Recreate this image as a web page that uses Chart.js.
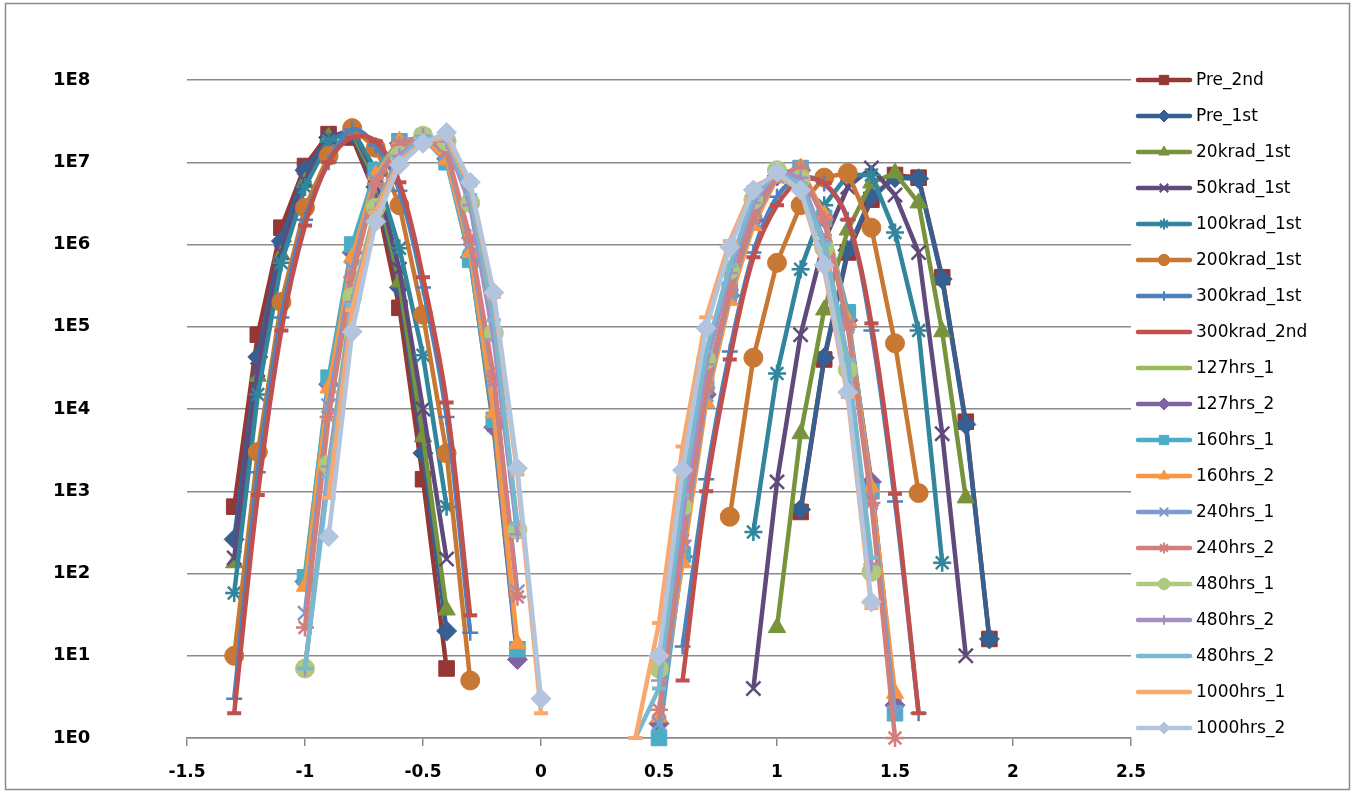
<!DOCTYPE html>
<html lang="en">
<head>
    <meta charset="UTF-8">
    <title>Distribution</title>
    <script src="https://cdn.jsdelivr.net/npm/chart.js@4.4.0/dist/chart.umd.min.js"></script>
    <style>
        html, body { margin: 0; padding: 0; background: #fff; }
        canvas { display: block; }
    </style>
</head>
<body>
<canvas id="chart" width="1355" height="794"></canvas>
<script>
    const N = null;

    // x positions (0.1 steps), gap between the two lobes is left empty
    const xValues = [-1.3, -1.2, -1.1, -1.0, -0.9, -0.8, -0.7, -0.6, -0.5, -0.4, -0.3, -0.2, -0.1, 0.0,
                     0.1, 0.2, 0.3,
                     0.4, 0.5, 0.6, 0.7, 0.8, 0.9, 1.0, 1.1, 1.2, 1.3, 1.4, 1.5, 1.6, 1.7, 1.8, 1.9];

    const xTickValues = [-1.5, -1, -0.5, 0, 0.5, 1, 1.5, 2, 2.5];
    const xTickLabels = ["-1.5", "-1", "-0.5", "0", "0.5", "1", "1.5", "2", "2.5"];
    const yTickValues = [1, 1e1, 1e2, 1e3, 1e4, 1e5, 1e6, 1e7, 1e8];
    const yTickLabels = ["1E0", "1E1", "1E2", "1E3", "1E4", "1E5", "1E6", "1E7", "1E8"];

    const seriesNames = ["Pre_2nd", "Pre_1st", "20krad_1st", "50krad_1st", "100krad_1st", "200krad_1st",
                         "300krad_1st", "300krad_2nd", "127hrs_1", "127hrs_2", "160hrs_1", "160hrs_2",
                         "240hrs_1", "240hrs_2", "480hrs_1", "480hrs_2", "480hrs_2", "1000hrs_1", "1000hrs_2"];

    const pre2nd   = [650, 8e4, 1.6e6, 9e6, 2.2e7, 2e7, 4e6, 1.7e5, 1.4e3, 7, N, N, N, N,  N, N, N,
                      N, N, N, N, N, N, N, 560, 4e4, 8e5, 3.5e6, 7e6, 6.5e6, 4e5, 7e3, 16];
    const pre1st   = [260, 4.3e4, 1.1e6, 8e6, 2e7, 2.2e7, 5e6, 3e5, 2.9e3, 20, N, N, N, N,  N, N, N,
                      N, N, N, N, N, N, N, 600, 4.2e4, 8.5e5, 3.8e6, 6.5e6, 6.3e6, 3.8e5, 6.5e3, 16];
    const krad20   = [135, 2.5e4, 7.5e5, 5.7e6, 2e7, 2.3e7, 6e6, 3.5e5, 4.6e3, 36, N, N, N, N,  N, N, N,
                      N, N, N, N, N, N, 22, 5e3, 1.6e5, 1.5e6, 5.6e6, 7.4e6, 3.2e6, 8.7e4, 830, N];
    const krad50   = [155, 3e4, 8e5, 6e6, 2e7, 2.5e7, 7e6, 5e5, 1e4, 150, N, N, N, N,  N, N, N,
                      N, N, N, N, N, 4, 1.3e3, 8e4, 1.1e6, 5e6, 8.5e6, 4e6, 8e5, 5e3, 10, N];
    const krad100  = [58, 1.5e4, 6e5, 5e6, 1.8e7, 2.5e7, 8e6, 9e5, 4.5e4, 650, N, N, N, N,  N, N, N,
                      N, N, N, N, N, 320, 2.7e4, 5e5, 3e6, 7e6, 7e6, 1.4e6, 9e4, 135, N, N];
    const krad200  = [10, 3e3, 2e5, 2.8e6, 1.2e7, 2.6e7, 1.5e7, 3e6, 1.4e5, 2.9e3, 5, N, N, N,  N, N, N,
                      N, N, N, N, 490, 4.2e4, 6e5, 3e6, 6.5e6, 7.4e6, 1.6e6, 6.3e4, 950, N, N, N];
    const krad300a = [3, 1.7e3, 1.3e5, 2e6, 1e7, 2.5e7, 1.6e7, 4.5e6, 3e5, 8e3, 19, N, N, N,  N, N, N,
                      N, N, 13, 1.4e3, 5e4, 8e5, 3.8e6, 6.5e6, 5.5e6, 2e6, 9e4, 750, 2, N, N, N];
    const krad300b = [2, 900, 9e4, 1.7e6, 1e7, 2e7, 1.8e7, 5.7e6, 4e5, 1.2e4, 31, N, N, N,  N, N, N,
                      N, N, 5, 1e3, 4e4, 7e5, 3e6, 6e6, 5.6e6, 2e6, 1.1e5, 930, 2, N, N, N];
    const hrs127a  = [N, N, N, 100, 2e4, 8e5, 7.5e6, 1.8e7, 2e7, 1.1e7, 7e5, 5.5e3, 10, N,  N, N, N,
                      N, 1.5, 150, 1.4e4, 2.3e5, 1.9e6, 6.6e6, 8.3e6, 2.2e6, 1.3e5, 1.2e3, 3, N, N, N, N];
    const hrs127b  = [N, N, N, 80, 2e4, 8e5, 7e6, 1.7e7, 2e7, 1.1e7, 7e5, 6e3, 9, N,  N, N, N,
                      N, 1.5, 160, 1.5e4, 2.4e5, 2e6, 6.8e6, 8e6, 2.1e6, 1.2e5, 1.3e3, 2.5, N, N, N, N];
    const hrs160a  = [N, N, N, 90, 2.4e4, 1e6, 8e6, 1.8e7, 2e7, 1e7, 6.5e5, 7.4e3, 12, N,  N, N, N,
                      N, 1, 170, 2e4, 2.8e5, 2.5e6, 7e6, 8.5e6, 2.1e6, 1.5e5, 1e3, 2, N, N, N, N];
    const hrs160b  = [N, N, N, 70, 1.8e4, 7e5, 7e6, 1.8e7, 2e7, 1.07e7, 8e5, 9e3, 14, N,  N, N, N,
                      N, 1.8, 135, 1.2e4, 2.1e5, 1.7e6, 6.5e6, 8.5e6, 2.3e6, 1.2e5, 1.1e3, 3.5, N, N, N, N];
    const hrs240a  = [N, N, N, 33, 1.1e4, 5e5, 6e6, 1.7e7, 2.1e7, 1.3e7, 1e6, 2.2e4, 60, N,  N, N, N,
                      N, 1.5, 200, 1.5e4, 2.5e5, 2e6, 6.8e6, 8e6, 2e6, 1.1e5, 800, 2, N, N, N, N];
    const hrs240b  = [N, N, N, 22, 8e3, 4e5, 5.5e6, 1.6e7, 2.1e7, 1.4e7, 1.2e6, 2.5e4, 52, N,  N, N, N,
                      N, 2.2, 250, 1.8e4, 2.8e5, 2.2e6, 7e6, 8.5e6, 2e6, 1e5, 720, 1, N, N, N, N];
    const hrs480a  = [N, N, N, 7, 2.1e3, 2.3e5, 2.8e6, 1.2e7, 2.1e7, 1.8e7, 3.2e6, 8.4e4, 340, N,  N, N, N,
                      N, 7, 650, 4e4, 4.9e5, 3.5e6, 8e6, 6.2e6, 9e5, 3e4, 105, N, N, N, N, N];
    const hrs480b  = [N, N, N, 7, 2e3, 2e5, 2.6e6, 1.2e7, 2.1e7, 1.8e7, 3e6, 7e4, 300, N,  N, N, N,
                      N, 5, 500, 3.5e4, 4.5e5, 3.2e6, 7.8e6, 6.5e6, 1.1e6, 4e4, 130, N, N, N, N, N];
    const hrs480c  = [N, N, N, 7, 1.5e3, 1.8e5, 2.5e6, 1.1e7, 2e7, 1.9e7, 4e6, 1.2e5, 400, N,  N, N, N,
                      1, 4, 900, 5e4, 5.5e5, 3.8e6, 7.5e6, 5.5e6, 1e6, 4e4, 155, N, N, N, N, N];
    const hrs1000a = [N, N, N, N, 830, 1.6e5, 2.5e6, 1e7, 1.8e7, 2e7, 5.2e6, 2.3e5, 1.6e3, 2,  N, N, N,
                      1, 25, 3.5e3, 1.3e5, 1.1e6, 5e6, 7e6, 4.5e6, 5e5, 1.4e4, 38, N, N, N, N, N];
    const hrs1000b = [N, N, N, N, 280, 8.7e4, 1.9e6, 9.3e6, 1.7e7, 2.3e7, 5.7e6, 2.6e5, 1.9e3, 3,  N, N, N,
                      N, 10, 1.8e3, 9.6e4, 9.3e5, 4.6e6, 7.6e6, 4.6e6, 5.6e5, 1.6e4, 45, N, N, N, N, N];

    const seriesValues = [pre2nd, pre1st, krad20, krad50, krad100, krad200, krad300a, krad300b,
                          hrs127a, hrs127b, hrs160a, hrs160b, hrs240a, hrs240b,
                          hrs480a, hrs480b, hrs480c, hrs1000a, hrs1000b];

    // looks
    const seriesColors = ["#953735", "#376092", "#77933C", "#604A7B", "#31859C", "#C87832",
                          "#4F81BD", "#C0504D", "#9BBB59", "#8064A2", "#4BACC6", "#F79646",
                          "#7D9BCD", "#D27E7B", "#AFC97F", "#A590C4", "#78B9D0", "#F9A86F", "#B3C4DF"];
    const markerStyles = ["rect", "rectRot", "triangle", "crossRot", "star", "circle",
                          "cross", "line", "line", "rectRot", "rect", "triangle",
                          "crossRot", "star", "circle", "cross", "line", "line", "rectRot"];
    const markerSize = { rect: 11, rectRot: 10, triangle: 10, crossRot: 10, star: 9, circle: 9.5, cross: 8, line: 7 };
    const strokeOnly = { crossRot: true, star: true, cross: true, line: true };
    const smoothed = [6, 7];

    const fontFamily = "'DejaVu Sans', sans-serif";

    const datasets = seriesNames.map((name, i) => {
        const st = markerStyles[i];
        return {
            label: name,
            data: xValues.map((x, k) => ({ x: x, y: seriesValues[i][k] })),
            borderColor: seriesColors[i],
            backgroundColor: seriesColors[i],
            borderWidth: 4.5,
            pointStyle: st,
            pointRadius: markerSize[st],
            pointHoverRadius: markerSize[st],
            pointBorderWidth: st === 'line' ? 4 : (strokeOnly[st] ? 2.5 : 1),
            pointBorderColor: seriesColors[i],
            pointBackgroundColor: seriesColors[i],
            tension: smoothed.includes(i) ? 0.35 : 0,
            spanGaps: false,
            clip: false,
            order: seriesNames.length - i
        };
    });

    // white page, outer frame and Excel-like legend on the right
    const frame = {
        id: 'frame',
        beforeDraw(chart) {
            const ctx = chart.ctx;
            ctx.save();
            ctx.fillStyle = '#fff';
            ctx.fillRect(0, 0, chart.width, chart.height);
            ctx.restore();
        },
        afterDraw(chart) {
            const ctx = chart.ctx;
            ctx.save();
            ctx.strokeStyle = '#8a8a8a';
            ctx.lineWidth = 1.5;
            ctx.strokeRect(5.5, 3.5, 1344, 786);

            const top = chart.chartArea.top;
            ctx.font = "17px " + fontFamily;
            ctx.textBaseline = 'middle';
            ctx.textAlign = 'left';
            seriesNames.forEach((name, i) => {
                const y = top + i * 36;
                const c = seriesColors[i];
                ctx.strokeStyle = c;
                ctx.lineWidth = 4.5;
                ctx.lineCap = 'round';
                ctx.beginPath();
                ctx.moveTo(1138, y);
                ctx.lineTo(1190, y);
                ctx.stroke();
                const st = markerStyles[i];
                ctx.fillStyle = c;
                ctx.lineCap = 'butt';
                ctx.lineWidth = st === 'line' ? 4 : (strokeOnly[st] ? 2 : 1);
                Chart.helpers.drawPoint(ctx, {
                    pointStyle: st, radius: markerSize[st] * 0.6, borderWidth: ctx.lineWidth, rotation: 0
                }, 1164, y);
                ctx.fillStyle = '#000';
                ctx.fillText(name, 1196, y + 1);
            });
            ctx.restore();
        }
    };

    new Chart(document.getElementById('chart'), {
        type: 'line',
        data: { datasets: datasets },
        options: {
            responsive: false,
            animation: false,
            layout: { padding: { left: 53, top: 80, right: 224, bottom: 0 } },
            plugins: { legend: { display: false }, tooltip: { enabled: false } },
            scales: {
                x: {
                    type: 'linear',
                    min: -1.5,
                    max: 2.5,
                    afterBuildTicks: s => { s.ticks = xTickValues.map(v => ({ value: v })); },
                    afterFit: s => { s.height = 56; },
                    ticks: {
                        callback: (v, i) => xTickLabels[i],
                        autoSkip: false,
                        maxRotation: 0,
                        padding: 16,
                        color: '#000',
                        font: { family: fontFamily, size: 17, weight: 'bold' }
                    },
                    grid: { drawOnChartArea: false, drawTicks: true, tickLength: 8, color: '#8a8a8a', lineWidth: 1.5 },
                    border: { color: '#8a8a8a', width: 1.5 }
                },
                y: {
                    type: 'logarithmic',
                    min: 1,
                    max: 1e8,
                    afterBuildTicks: s => { s.ticks = yTickValues.map(v => ({ value: v })); },
                    afterFit: s => { s.width = 134; },
                    ticks: {
                        callback: (v, i) => yTickLabels[i],
                        autoSkip: false,
                        crossAlign: 'far',
                        padding: 0,
                        color: '#000',
                        font: { family: fontFamily, size: 18, weight: 'bold' }
                    },
                    grid: { drawTicks: false, color: '#8a8a8a', lineWidth: 1.5 },
                    border: { display: false }
                }
            }
        },
        plugins: [frame]
    });
</script>
</body>
</html>
